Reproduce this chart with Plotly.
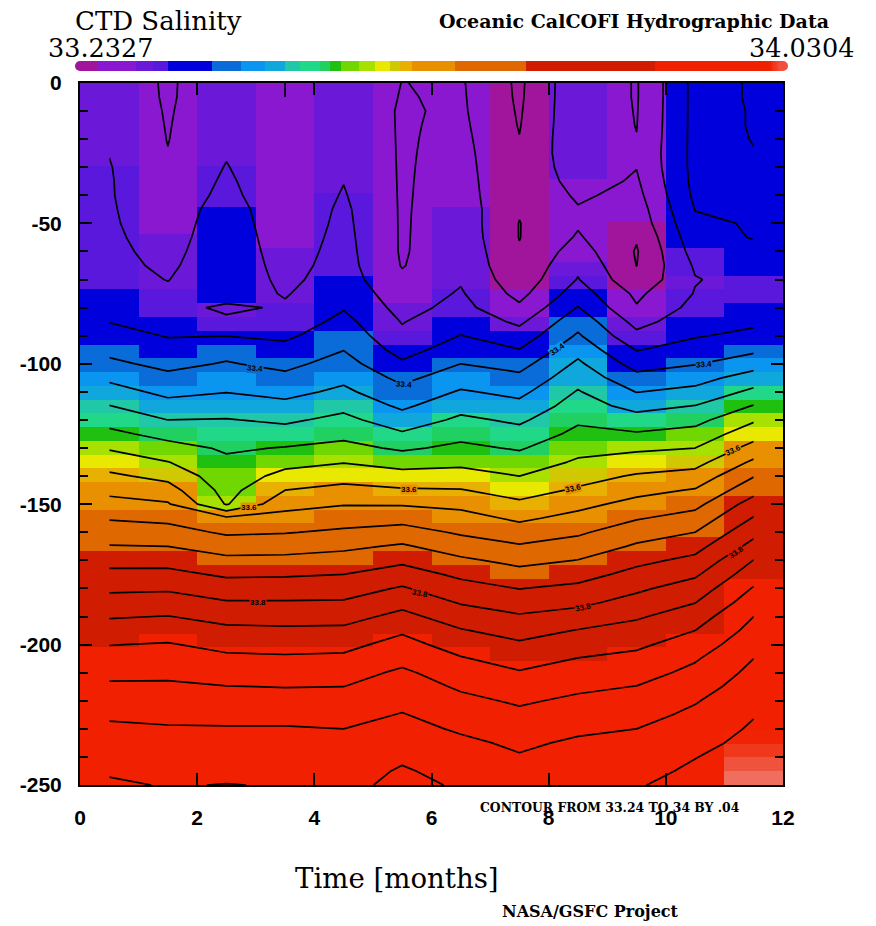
import numpy as np
import plotly.graph_objects as go

W, H = 876, 926
AX_L, AX_R, AX_T, AX_B = 80, 783, 83, 785

months = [0.5, 1.5, 2.5, 3.5, 4.5, 5.5, 6.5, 7.5, 8.5, 9.5, 10.5, 11.5]
depths = [-5 * k for k in range(51)]  # 0, -5, ... -250 m
month_edges = list(range(13))

sal_m01 = [33.300,33.303,33.307,33.310,33.314,33.319,33.322,33.323,33.323,33.324,33.325,33.327,33.329,33.331,33.334,33.338,33.348,33.359,33.374,33.390,33.408,33.432,33.456,33.481,33.505,33.530,33.556,33.582,33.607,33.630,33.653,33.677,33.700,33.722,33.747,33.770,33.793,33.815,33.837,33.858,33.879,33.895,33.911,33.926,33.941,33.955,33.966,33.976,33.986,33.996,34.005]
sal_m02 = [33.276,33.276,33.277,33.278,33.279,33.281,33.284,33.287,33.291,33.295,33.299,33.303,33.308,33.313,33.319,33.327,33.335,33.346,33.358,33.373,33.390,33.409,33.430,33.454,33.480,33.507,33.534,33.561,33.589,33.616,33.644,33.670,33.696,33.720,33.746,33.771,33.795,33.818,33.841,33.861,33.883,33.896,33.912,33.926,33.939,33.952,33.963,33.972,33.981,33.990,33.998]
sal_m03 = [33.300,33.302,33.305,33.308,33.312,33.317,33.322,33.327,33.332,33.340,33.343,33.345,33.346,33.347,33.346,33.340,33.312,33.328,33.359,33.387,33.403,33.421,33.439,33.460,33.482,33.500,33.515,33.527,33.535,33.546,33.557,33.648,33.674,33.703,33.729,33.754,33.780,33.803,33.828,33.848,33.869,33.888,33.905,33.921,33.935,33.949,33.963,33.972,33.982,33.991,34.001]
sal_m04 = [33.280,33.280,33.281,33.282,33.284,33.286,33.287,33.288,33.289,33.291,33.294,33.298,33.302,33.306,33.311,33.317,33.325,33.334,33.352,33.373,33.390,33.409,33.429,33.450,33.473,33.497,33.522,33.547,33.573,33.600,33.627,33.653,33.678,33.705,33.730,33.756,33.779,33.803,33.825,33.847,33.868,33.885,33.902,33.919,33.934,33.949,33.963,33.972,33.981,33.990,33.998]
sal_m05 = [33.304,33.305,33.307,33.309,33.311,33.313,33.316,33.319,33.323,33.327,33.329,33.331,33.333,33.335,33.338,33.347,33.357,33.372,33.386,33.399,33.415,33.431,33.448,33.469,33.491,33.509,33.532,33.558,33.585,33.612,33.638,33.662,33.687,33.712,33.736,33.760,33.782,33.804,33.826,33.848,33.870,33.887,33.904,33.920,33.933,33.947,33.960,33.968,33.975,33.983,33.990]
sal_m06 = [33.2795,33.278,33.276,33.276,33.276,33.276,33.276,33.276,33.276,33.276,33.276,33.276,33.276,33.278,33.287,33.297,33.307,33.318,33.328,33.345,33.366,33.390,33.412,33.433,33.457,33.485,33.514,33.544,33.575,33.604,33.637,33.667,33.696,33.725,33.752,33.778,33.804,33.828,33.851,33.875,33.893,33.908,33.927,33.939,33.950,33.962,33.973,33.984,33.994,34.004,34.0095]
sal_m07 = [33.284,33.285,33.286,33.288,33.290,33.292,33.294,33.296,33.298,33.301,33.303,33.305,33.308,33.311,33.316,33.324,33.332,33.348,33.361,33.380,33.400,33.422,33.444,33.466,33.488,33.508,33.529,33.551,33.575,33.602,33.630,33.655,33.675,33.700,33.727,33.752,33.775,33.797,33.820,33.843,33.864,33.883,33.899,33.915,33.929,33.942,33.955,33.968,33.978,33.987,33.996]
sal_m08 = [33.233,33.234,33.236,33.238,33.241,33.243,33.243,33.243,33.243,33.243,33.239,33.239,33.243,33.247,33.255,33.268,33.287,33.312,33.337,33.361,33.386,33.409,33.430,33.451,33.473,33.494,33.516,33.538,33.560,33.583,33.608,33.633,33.658,33.684,33.709,33.734,33.759,33.782,33.804,33.825,33.846,33.865,33.883,33.899,33.915,33.928,33.941,33.953,33.963,33.972,33.981]
sal_m09 = [33.310,33.310,33.310,33.310,33.310,33.309,33.305,33.297,33.286,33.277,33.276,33.284,33.298,33.312,33.322,33.340,33.362,33.386,33.405,33.427,33.447,33.465,33.483,33.498,33.514,33.530,33.548,33.565,33.586,33.605,33.629,33.652,33.674,33.697,33.721,33.745,33.769,33.791,33.816,33.842,33.862,33.881,33.897,33.913,33.927,33.940,33.953,33.966,33.975,33.984,33.993]
sal_m10 = [33.277,33.277,33.278,33.279,33.281,33.283,33.281,33.275,33.268,33.260,33.254,33.243,33.237,33.2395,33.250,33.272,33.283,33.307,33.330,33.358,33.384,33.412,33.439,33.467,33.496,33.524,33.553,33.578,33.604,33.628,33.652,33.677,33.703,33.725,33.750,33.772,33.793,33.814,33.835,33.855,33.873,33.890,33.905,33.921,33.934,33.947,33.960,33.970,33.979,33.989,33.998]
sal_m11 = [33.372,33.372,33.372,33.372,33.372,33.372,33.372,33.371,33.368,33.361,33.353,33.345,33.336,33.325,33.318,33.322,33.332,33.343,33.357,33.377,33.398,33.425,33.451,33.481,33.508,33.534,33.560,33.586,33.615,33.643,33.669,33.695,33.720,33.746,33.770,33.794,33.818,33.839,33.861,33.880,33.898,33.916,33.930,33.943,33.957,33.968,33.978,33.989,33.999,34.006,34.0095]
sal_m12 = [33.357,33.357,33.358,33.358,33.359,33.361,33.362,33.363,33.364,33.364,33.363,33.362,33.350,33.339,33.334,33.335,33.338,33.352,33.370,33.392,33.423,33.458,33.489,33.522,33.555,33.584,33.614,33.647,33.678,33.706,33.738,33.763,33.789,33.813,33.841,33.862,33.883,33.901,33.920,33.933,33.947,33.960,33.970,33.980,33.989,33.998,34.005,34.011,34.016,34.023,34.030]

sal_min, sal_max = 33.2327, 34.0304
contour_start, contour_end, contour_step = 33.24, 34.0, 0.04

band_edges = [33.2327,33.2573,33.300,33.320,33.3367,33.386,33.4195,33.4453,33.4677,33.4844,33.5068,33.518,33.5305,33.5516,33.5683,33.5851,33.5963,33.6097,33.6578,33.7373,33.8816,34.010,34.0304]
band_colors = ["#a0159c","#8a18d0","#6c18d8","#5a18dc","#0000dc","#0a6cd8","#0a96f0","#10a8dc","#20c8a8","#20d888","#20d060","#20c010","#70d800","#a8e000","#e8e800","#d0c800","#e8b000","#e89000","#e06800","#d01c00","#f02000","#f02000"]

label_text = ["33.4","33.4","33.4","33.4","33.6","33.6","33.6","33.6","33.8","33.8","33.8","33.8"]
label_px = [255,404,557,704,249,409,573,733,258,420,583,736]
label_py = [368,384,349,364,507,489,488,450,602,593,607,552]
label_rot = [5,3,-35,-5,0,0,-12,-25,0,12,-12,-35]
label_bg = ["#0a6cd8","#0a6cd8","#0a96f0","#0a6cd8","#e89000","#e89000","#e89000","#e89000","#d01c00","#d01c00","#d01c00","#d01c00"]

x_ticks = [0, 2, 4, 6, 8, 10, 12]
y_ticks = [0, -50, -100, -150, -200, -250]
y_tick_text = ["0", "-50", "-100", "-150", "-200", "-250"]


def norm(v):
    return (v - sal_min) / (sal_max - sal_min)


colorscale = []
for i, c in enumerate(band_colors):
    colorscale.append([norm(band_edges[i]), c])
    colorscale.append([norm(band_edges[i + 1]), c])
colorscale[-1] = [1.0, "#f07060"]
colorscale[0][0] = 0.0

z = np.array([sal_m01, sal_m02, sal_m03, sal_m04, sal_m05, sal_m06,
              sal_m07, sal_m08, sal_m09, sal_m10, sal_m11, sal_m12]).T

# the image is drawn as 51 equal rows that fill 0..250 exactly
row_edges = np.linspace(0, -250, 52)

fig = go.Figure()
fig.add_trace(go.Heatmap(x=month_edges, y=row_edges, z=z, zmin=sal_min, zmax=sal_max,
                         colorscale=colorscale, showscale=False, hoverinfo="skip"))
fig.add_trace(go.Contour(x=months, y=depths, z=z, showscale=False, hoverinfo="skip",
                         contours=dict(coloring="none", start=contour_start, end=contour_end,
                                       size=contour_step, showlabels=False),
                         line=dict(color="#000000", width=1.7, smoothing=0)))

# colour key above the plot
key_lo = sal_min + (80 - 75) / 713 * (sal_max - sal_min)
key_hi = sal_min + (783 - 75) / 713 * (sal_max - sal_min)
key_x = np.linspace(key_lo, key_hi, 500)
fig.add_trace(go.Heatmap(x=key_x, y=[0, 1], z=[key_x, key_x], zmin=sal_min, zmax=sal_max,
                         colorscale=colorscale, showscale=False, hoverinfo="skip",
                         xaxis="x2", yaxis="y2"))
fig.add_trace(go.Scatter(x=[key_lo, key_hi], y=[0.5, 0.5], mode="markers", xaxis="x2", yaxis="y2",
                         marker=dict(size=10, color=["#a0159c", "#f05040"]),
                         cliponaxis=False, showlegend=False, hoverinfo="skip"))

axis_style = dict(showgrid=False, zeroline=False, showline=True, linecolor="#000000", linewidth=2,
                  mirror="ticks", ticks="inside", ticklen=12, tickwidth=2, tickcolor="#000000",
                  automargin=False,
                  tickfont=dict(family="Liberation Sans", size=21, color="#000000"))
fig.update_layout(
    width=W, height=H, autosize=False, paper_bgcolor="#ffffff", plot_bgcolor="#ffffff",
    margin=dict(l=0, r=0, t=0, b=0), showlegend=False,
    xaxis=dict(domain=[AX_L / W, AX_R / W], range=[0, 12], tickvals=x_ticks,
               ticktext=[f"<b>{t}</b>" for t in x_ticks], anchor="y", ticklabelstandoff=13, **axis_style),
    yaxis=dict(domain=[1 - AX_B / H, 1 - AX_T / H], range=[-250, 0], tickvals=y_ticks,
               ticktext=[f"<b>{t}</b>" for t in y_tick_text], anchor="x", ticklabelstandoff=12,
               minor=dict(dtick=10, ticks="inside", ticklen=8, tickwidth=2, tickcolor="#000000"),
               **axis_style),
    xaxis2=dict(domain=[AX_L / W, AX_R / W], range=[key_lo, key_hi], visible=False, anchor="y2", automargin=False),
    yaxis2=dict(domain=[1 - 71 / H, 1 - 61 / H], range=[0, 1], visible=False, anchor="x2", automargin=False),
)


def px_text(text, px, py, size, family="DejaVu Serif", anchor="center", color="#000000", **kw):
    fig.add_annotation(text=text, x=px / W, y=1 - py / H, xref="paper", yref="paper",
                       xanchor=anchor, yanchor="middle", showarrow=False, borderpad=0,
                       font=dict(family=family, size=size, color=color), **kw)


px_text("CTD Salinity", 74, 21, 26, anchor="left")
px_text("33.2327", 47, 48, 25.5, anchor="left")
px_text("34.0304", 855, 48, 25.5, anchor="right")
px_text("<b>Oceanic CalCOFI Hydrographic Data</b>", 830, 21, 19, anchor="right")
px_text("Time [months]", 397, 878, 27.6)
px_text("<b>NASA/GSFC Project</b>", 590, 911, 16)
px_text("<b>CONTOUR FROM 33.24 TO 34 BY .04</b>", 610, 807, 12.4)

for t, lx, ly, r, bg in zip(label_text, label_px, label_py, label_rot, label_bg):
    fig.add_annotation(text=f"<b>{t}</b>", x=(lx - AX_L) / (AX_R - AX_L) * 12,
                       y=-(ly - AX_T) / (AX_B - AX_T) * 250, xref="x", yref="y",
                       showarrow=False, textangle=r, bgcolor=bg, borderpad=0,
                       font=dict(family="Liberation Sans", size=8, color="#000000"))

fig.write_html("out.html", config={"displayModeBar": False},
               post_script="document.documentElement.style.overflow='hidden';document.body.style.margin='0';document.body.style.padding='0';")
